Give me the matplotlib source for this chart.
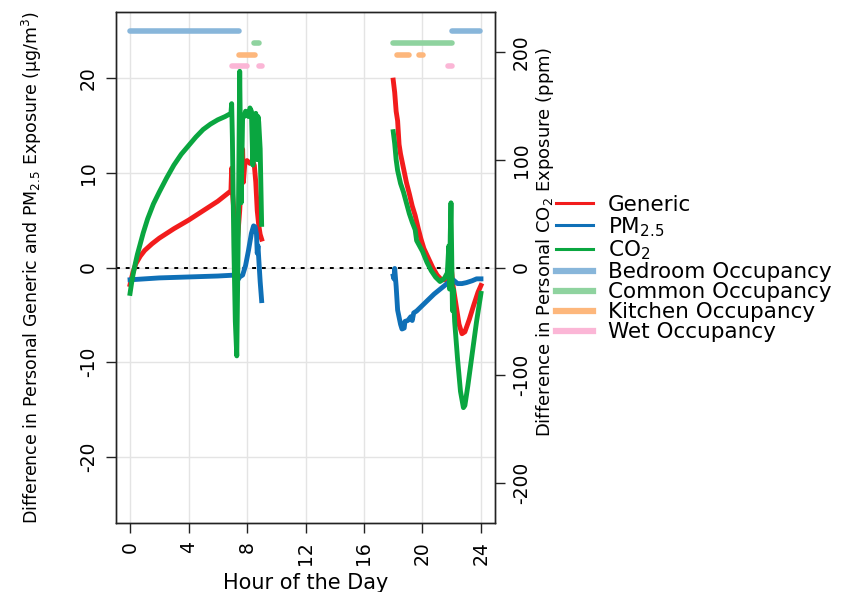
import numpy as np
import matplotlib
matplotlib.use("Agg")
import matplotlib.pyplot as plt
from matplotlib.lines import Line2D

plt.rcParams['axes.unicode_minus'] = False

# hour of day, morning and evening pieces (NaN breaks the line)
gen_hr = [0.0, 0.2, 0.4, 0.7, 1.0, 1.5, 2.0, 2.5, 3.0, 4.0, 5.0, 6.0, 6.9, 6.95, 7.0, 7.2, 7.3, 7.5, 7.6, 7.7,
          7.75, 7.85, 8.0, 8.2, 8.4, 8.5, 8.6, 8.7, 8.8, 8.9, 9.0, np.nan,
          18.0, 18.1, 18.2, 18.3, 18.4, 18.5, 18.7, 18.9, 19.1, 19.3, 19.5, 19.7, 19.9, 20.1, 20.4,
          20.7, 21.0, 21.3, 21.6, 21.8, 21.9, 22.0, 22.1, 22.3, 22.5, 22.7, 22.9, 23.2, 23.5, 23.8, 24.0]
generic = [-1.8, -0.5, 0.4, 1.2, 1.8, 2.5, 3.1, 3.6, 4.1, 5.0, 6.0, 7.0, 8.1, 10.5, 8.0, 4.0, 2.0, 6.0, 9.0,
           12.5, 9.0, 11.0, 11.3, 11.0, 11.2, 10.8, 9.0, 6.0, 4.5, 3.5, 3.0, np.nan,
           19.8, 18.5, 16.5, 15.5, 13.0, 12.0, 10.5, 9.0, 7.8, 6.5, 5.5, 4.2, 3.0, 2.0, 1.0,
           0.0, -0.8, -1.3, -1.3, -1.0, 0.5, -0.5, -2.0, -4.0, -6.0, -7.0, -6.8, -5.5, -4.0, -2.6, -1.9]

pm_hr = [0, 1, 2, 3, 4, 5, 6, 7.2, 7.3, 7.5, 7.7, 7.9, 8.1, 8.3, 8.45, 8.55, 8.65, 8.7, 8.75, 8.8, 8.9, 9.0,
         np.nan,
         18.0, 18.05, 18.1, 18.2, 18.3, 18.5, 18.6, 18.75, 18.8, 19.0, 19.2, 19.3, 19.4, 19.6, 19.8, 20.0,
         20.4, 20.8, 21.2, 21.6, 21.9, 22.1, 22.4, 22.7, 23.0, 23.4, 23.7, 24.0]
pm25 = [-1.3, -1.2, -1.1, -1.05, -1.0, -0.95, -0.9, -0.8, -1.5, -1.0, -0.8, 0.2, 1.8, 3.6, 4.4, 4.3, 3.5, 1.5,
        2.3, 1.0, -1.5, -3.5, np.nan,
        -0.9, -1.2, -0.1, -2.0, -4.5, -6.0, -6.5, -6.4, -5.7, -5.6, -5.2, -5.6, -4.8, -4.6, -4.3, -4.0,
        -3.4, -2.8, -2.3, -1.8, -1.4, -1.3, -1.7, -1.7, -1.6, -1.4, -1.2, -1.2]

co2_hr = [0.0, 0.1, 0.2, 0.35, 0.5, 0.7, 0.9, 1.2, 1.6, 2.0, 2.5, 3.0, 3.5, 4.0, 4.5, 5.0, 5.5, 6.0, 6.5,
          6.9, 6.95, 7.0, 7.1, 7.2, 7.3, 7.4, 7.5, 7.55, 7.6,
          7.7, 7.8, 7.9, 8.0, 8.1, 8.2, 8.3, 8.4, 8.5, 8.6, 8.7, 8.75, 8.8, 8.9, 9.0, np.nan,
          18.0, 18.1, 18.2, 18.3, 18.5, 18.7, 18.9, 19.1, 19.3, 19.5, 19.6, 19.8, 20.0, 20.3, 20.6, 20.9,
          21.2, 21.5, 21.7, 21.8, 21.85, 21.9, 21.95, 22.0, 22.05, 22.1, 22.2, 22.4, 22.6, 22.8, 22.9,
          23.1, 23.4, 23.7, 24.0]
co2 = [-24, -15, -7, 3, 12, 22, 32, 45, 59, 70, 83, 95, 105, 113, 121, 128, 133, 137, 140,
       143, 152, 120, 20, -50, -82, 30, 182, 120, 60,
       140, 140, 145, 142, 140, 148, 145, 95, 142, 143, 100, 140, 135, 110, 40, np.nan,
       126, 115, 100, 90, 78, 70, 60, 50, 42, 35, 25, 20, 15, 5, -3, -9,
       -13, -10, -5, 20, -20, 30, 60, 10, -40, -20, -50, -85, -115, -130, -128,
       -110, -80, -50, -24]

# occupancy periods (start, end hour)
bedroom = [(0.0, 7.45), (22.05, 23.95)]
common = [(8.5, 8.85), (18.0, 22.0)]
kitchen = [(7.45, 8.55), (18.25, 19.05), (19.75, 20.05)]
wet = [(7.0, 8.0), (8.8, 9.05), (21.75, 22.05)]
occ_levels = [25, 23.75, 22.5, 21.25]

c_gen = '#f21c1c'
c_pm = '#0f70b7'
c_co2 = '#0aa640'
c_occ = ['#88b6da', '#8fd39f', '#fdb77c', '#fbb6d6']

fig = plt.figure(figsize=(8.68, 5.92), dpi=100)
ax = fig.add_axes([116/868, 1-523/592, (495-116)/868, (523-12)/592])
ax2 = ax.twinx()

ax.set_xlim(-0.96, 24.96)
ax.set_ylim(-27, 27)
ax2.set_ylim(-237, 237)

ax.set_xticks([0, 4, 8, 12, 16, 20, 24])
ax.set_yticks([-20, -10, 0, 10, 20])
ax2.set_yticks([-200, -100, 0, 100, 200])
ax.grid(True, color='#e4e4e4', lw=1)
ax.set_axisbelow(True)

ax.axhline(0, color='black', ls=(0, (2, 3)), lw=1.4, zorder=1)

for segs, lev, col in zip([bedroom, common, kitchen, wet], occ_levels, c_occ):
    for s, e in segs:
        ax.plot([s, e], [lev, lev], color=col, lw=4, solid_capstyle='round', zorder=2)

ax.plot(gen_hr, generic, color=c_gen, lw=3.5, zorder=3)
ax.plot(pm_hr, pm25, color=c_pm, lw=3.5, zorder=4)
ax2.plot(co2_hr, co2, color=c_co2, lw=3.5)

for a in (ax, ax2):
    for sp in a.spines.values():
        sp.set_color('#222222')
        sp.set_linewidth(1)

ax.tick_params(axis='both', length=7, width=1, color='#222222', labelsize=13.5, pad=6)
ax2.tick_params(axis='y', length=7, width=1, color='#222222', labelsize=13.5, pad=5)
ax.tick_params(axis='x', labelrotation=90)
for t in ax.get_yticklabels():
    t.set_rotation(90)
    t.set_va('center')
for t in ax2.get_yticklabels():
    t.set_rotation(90)
    t.set_va('center')

ax.set_xlabel('Hour of the Day', fontsize=15, labelpad=6)
ax.set_ylabel('Difference in Personal Generic and PM$_{2.5}$ Exposure (µg/m$^3$)', fontsize=12.5)
ax.yaxis.set_label_coords(-0.19, 0.5)
ax2.set_ylabel('Difference in Personal CO$_2$ Exposure (ppm)', fontsize=13)
ax2.yaxis.set_label_coords(1.103, 0.55)

handles = [Line2D([], [], color=c_gen, lw=2.2),
           Line2D([], [], color=c_pm, lw=2.2),
           Line2D([], [], color=c_co2, lw=2.2)]
handles += [Line2D([], [], color=c, lw=4.5) for c in c_occ]
labels = ['Generic', 'PM$_{2.5}$', 'CO$_2$', 'Bedroom Occupancy', 'Common Occupancy',
          'Kitchen Occupancy', 'Wet Occupancy']
fig.legend(handles, labels, loc='upper left', bbox_to_anchor=(556/868, 1-195/592),
           frameon=False, fontsize=15.5, handlelength=1.7, handletextpad=0.7,
           labelspacing=0.0, borderaxespad=0, borderpad=0)

fig.savefig('out.png', dpi=100)
